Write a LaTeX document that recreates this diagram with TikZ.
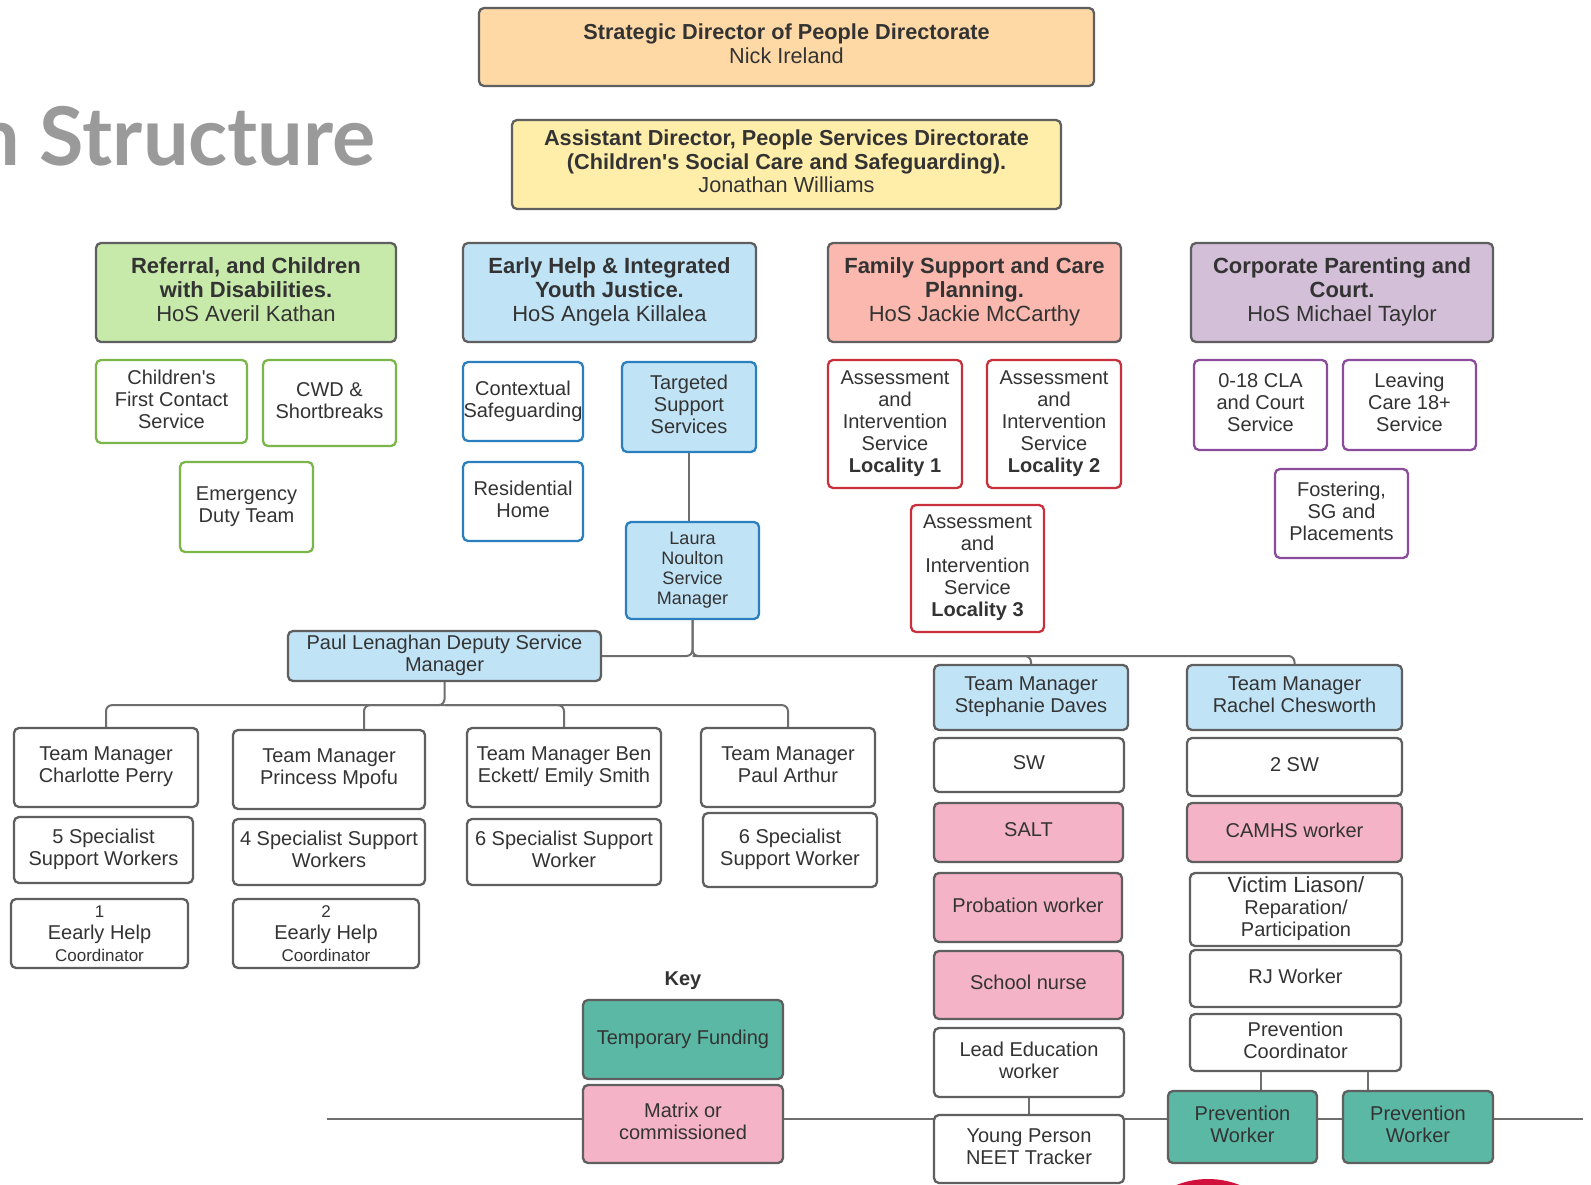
\documentclass[tikz,border=0pt]{standalone}
\usepackage{fontspec}
\setmainfont{Liberation Sans}
\newfontfamily\titlefont{Lato}
\usetikzlibrary{calc}
\definecolor{txt}{HTML}{333333}
\definecolor{bord}{HTML}{5F5F5F}
\definecolor{connc}{HTML}{6E6E6E}
\definecolor{peach}{HTML}{FED9A6}
\definecolor{lyellow}{HTML}{FFEEAA}
\definecolor{lgreen}{HTML}{C7E9AA}
\definecolor{lblue}{HTML}{C1E3F6}
\definecolor{salmon}{HTML}{FAB8AE}
\definecolor{lpurple}{HTML}{D3BFD7}
\definecolor{pinkc}{HTML}{F4B3C6}
\definecolor{tealc}{HTML}{5BB8A4}
\definecolor{gborder}{HTML}{7AB648}
\definecolor{bborder}{HTML}{2C7FBE}
\definecolor{rborder}{HTML}{C8303D}
\definecolor{pborder}{HTML}{8B4C9C}
\definecolor{titlegray}{HTML}{9A9A9A}
\definecolor{crimson}{HTML}{D1103C}
\tikzset{
  base/.style={rectangle, rounded corners=5pt, line width=2.3pt, inner sep=0pt, align=center, text=txt, text depth=5pt, font=\fontsize{20}{22}\selectfont},
  sz/.style 2 args={minimum width=#1, minimum height=#2},
  graybox/.style={base, draw=bord, fill=white},
  headbox/.style={base, draw=bord, font=\fontsize{22}{24}\selectfont},
  topbox/.style={base, draw=bord, text depth=6.5pt, font=\fontsize{21.7}{23.5}\selectfont},
  greenbox/.style={base, draw=gborder, fill=white},
  bluebox/.style={base, draw=bborder, fill=white},
  redbox/.style={base, draw=rborder, fill=white},
  purplebox/.style={base, draw=pborder, fill=white},
  conn/.style={draw=connc, line width=2pt, rounded corners=6pt},
}
\begin{document}
\begin{tikzpicture}[x=1pt,y=-1pt]
\useasboundingbox[fill=white] (0,0) rectangle (1591,1185);

% title fragment
\node[anchor=base east, inner sep=0pt, text=titlegray, font=\titlefont\bfseries\fontsize{81}{83}\selectfont] (title) at (376,166) {n Structure};

% partial red circle at bottom
\begin{scope}
\clip (0,0) rectangle (1591,1185);
\fill[crimson] (1208,1265) circle[radius=86];
\end{scope}

% horizontal line at bottom
\coordinate (hl) at (327,1119);
\coordinate (hr) at (1583,1119);
\draw[conn] (hl) -- (hr);

% top
\node[topbox, fill=peach, sz={615}{78}] (top) at (786.5,47) {\textbf{Strategic Director of People Directorate}\\Nick Ireland};
\node[topbox, fill=lyellow, sz={549}{89}] (asst) at (786.5,164.5) {\textbf{Assistant Director, People Services Directorate}\\\textbf{(Children\textquotesingle s Social Care and Safeguarding).}\\Jonathan Williams};

% heads
\node[headbox, fill=lgreen, sz={300}{99}] (hgreen) at (246,292.5) {\textbf{Referral, and Children}\\\textbf{with Disabilities.}\\HoS Averil Kathan};
\node[headbox, fill=lblue, sz={293}{99}] (hblue) at (609.5,292.5) {\textbf{Early Help \& Integrated}\\\textbf{Youth Justice.}\\HoS Angela Killalea};
\node[headbox, fill=salmon, sz={293}{99}] (hsalmon) at (974.5,292.5) {\textbf{Family Support and Care}\\\textbf{Planning.}\\HoS Jackie McCarthy};
\node[headbox, fill=lpurple, sz={302}{99}] (hpurple) at (1342,292.5) {\textbf{Corporate Parenting and}\\\textbf{Court.}\\HoS Michael Taylor};

% green subs
\node[greenbox, sz={151}{83}] (cfc) at (171.5,401.5) {Children\textquotesingle s\\First Contact\\Service};
\node[greenbox, sz={133}{86}] (cwd) at (329.5,403) {CWD \&\\Shortbreaks};
\node[greenbox, sz={133}{90}] (edt) at (246.5,507) {Emergency\\Duty Team};

% blue subs
\node[bluebox, sz={120}{79}] (ctx) at (523,401.5) {Contextual\\Safeguarding};
\node[bluebox, fill=lblue, sz={134}{90}] (tss) at (689,407) {Targeted\\Support\\Services};
\node[bluebox, sz={120}{79}] (res) at (523,501.5) {Residential\\Home};
\node[bluebox, fill=lblue, sz={133}{97}, font=\fontsize{18}{20}\selectfont] (laura) at (692.5,570.5) {Laura\\Noulton\\Service\\Manager};

% red subs
\node[redbox, sz={134}{128}] (loc1) at (895,424) {Assessment\\and\\Intervention\\Service\\\textbf{Locality 1}};
\node[redbox, sz={134}{128}] (loc2) at (1054,424) {Assessment\\and\\Intervention\\Service\\\textbf{Locality 2}};
\node[redbox, sz={133}{127}] (loc3) at (977.5,568.5) {Assessment\\and\\Intervention\\Service\\\textbf{Locality 3}};

% purple subs
\node[purplebox, sz={133}{90}] (cla) at (1260.5,405) {0-18 CLA\\and Court\\Service};
\node[purplebox, sz={133}{90}] (lc) at (1409.5,405) {Leaving\\Care 18+\\Service};
\node[purplebox, sz={133}{89}] (fos) at (1341.5,513.5) {Fostering,\\SG and\\Placements};

% deputy
\node[graybox, fill=lblue, sz={313}{50}] (paul) at (444.5,656) {Paul Lenaghan Deputy Service\\Manager};

% team managers left
\node[graybox, sz={184}{79}] (tm1) at (106,767.5) {Team Manager\\Charlotte Perry};
\node[graybox, sz={192}{79}] (tm2) at (329,769.5) {Team Manager\\Princess Mpofu};
\node[graybox, sz={194}{79}] (tm3) at (564,767.5) {Team Manager Ben\\Eckett/ Emily Smith};
\node[graybox, sz={174}{79}] (tm4) at (788,767.5) {Team Manager\\Paul Arthur};

\node[graybox, sz={179}{66}] (s1) at (103.5,850) {5 Specialist\\Support Workers};
\node[graybox, sz={192}{66}] (s2) at (329,852) {4 Specialist Support\\Workers};
\node[graybox, sz={194}{66}] (s3) at (564,852) {6 Specialist Support\\Worker};
\node[graybox, sz={174}{74}] (s4) at (790,850) {6 Specialist\\Support Worker};

\node[graybox, text depth=0pt, sz={177}{69}] (c1) at (99.5,933.5) {{\fontsize{17}{22}\selectfont 1}\\Eearly Help\\{\fontsize{17}{21}\selectfont Coordinator}};
\node[graybox, text depth=0pt, sz={186}{69}] (c2) at (326,933.5) {{\fontsize{17}{22}\selectfont 2}\\Eearly Help\\{\fontsize{17}{21}\selectfont Coordinator}};

% right column 1
\node[graybox, fill=lblue, sz={194}{65}] (steph) at (1031,697.5) {Team Manager\\Stephanie Daves};
\node[graybox, sz={190}{54}] (sw) at (1029,765) {SW};
\node[graybox, fill=pinkc, sz={189}{59}] (salt) at (1028.5,832.5) {SALT};
\node[graybox, fill=pinkc, sz={188}{69}] (prob) at (1028,907.5) {Probation worker};
\node[graybox, fill=pinkc, sz={189}{68}] (nurse) at (1028.5,985) {School nurse};
\node[graybox, sz={190}{69}] (lead) at (1029,1062.5) {Lead Education\\worker};
\node[graybox, sz={190}{68}] (neet) at (1029,1149) {Young Person\\NEET Tracker};

% right column 2
\node[graybox, fill=lblue, sz={215}{65}] (rach) at (1294.5,697.5) {Team Manager\\Rachel Chesworth};
\node[graybox, sz={215}{58}] (sw2) at (1294.5,767) {2 SW};
\node[graybox, fill=pinkc, sz={215}{59}] (camhs) at (1294.5,832.5) {CAMHS worker};
\node[graybox, sz={212}{73}] (vic) at (1296,909.5) {{\fontsize{22}{23}\selectfont Victim Liason/}\\Reparation/\\Participation};
\node[graybox, sz={211}{57}] (rj) at (1295.5,978.5) {RJ Worker};
\node[graybox, sz={211}{57}] (pc) at (1295.5,1042.5) {Prevention\\Coordinator};
\node[graybox, fill=tealc, sz={149}{72}] (pw1) at (1242.5,1127) {Prevention\\Worker};
\node[graybox, fill=tealc, sz={150}{72}] (pw2) at (1418,1127) {Prevention\\Worker};

% key
\node[inner sep=0pt, text=txt, font=\fontsize{20}{22}\selectfont\bfseries] (key) at (683,981) {Key};
\node[graybox, fill=tealc, sz={200}{79}] (tf) at (683,1039.5) {Temporary Funding};
\node[graybox, fill=pinkc, sz={200}{78}] (mat) at (683,1124) {Matrix or\\commissioned};

% connectors
\draw[conn] (tss.south) -- (tss.south |- laura.north);
\coordinate (bus) at (laura.south |- paul.east);
\draw[conn] (laura.south) |- (paul.east);
\draw[conn] (laura.south) -- (bus) -| (steph.north);
\draw[conn] (bus) -| (rach.north);

\coordinate (pbus) at ($(paul.south)+(0,23)$);
\draw[conn] (paul.south) -- (pbus) -| (tm1.north);
\draw[conn] (pbus) -| ([xshift=35pt]tm2.north);
\draw[conn] (pbus) -| (tm3.north);
\draw[conn] (pbus) -| (tm4.north);

\draw[conn] (lead.south) -- (neet.north);
\draw[conn] ([xshift=-34.5pt]pc.south) -- ([xshift=-34.5pt]pc.south |- pw1.north);
\draw[conn] ([xshift=72.5pt]pc.south) -- ([xshift=72.5pt]pc.south |- pw2.north);
\end{tikzpicture}
\end{document}
